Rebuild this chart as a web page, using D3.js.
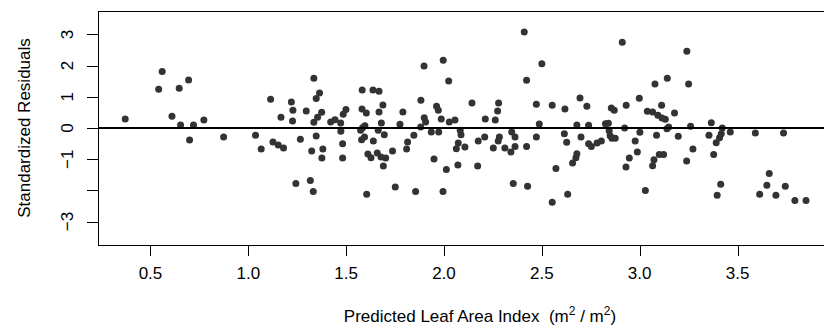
<!DOCTYPE html>
<html><head><meta charset="utf-8">
<script src="https://cdn.jsdelivr.net/npm/d3@7"></script>
<style>body{margin:0;background:#fff} svg{display:block} text{font-family:"Liberation Sans",Arial,Helvetica,sans-serif;fill:#000}</style>
</head><body>
<script>
const predicted = [
0.371,0.560,0.542,0.647,0.695,0.610,0.654,0.720,0.773,0.700,
0.874,1.037,1.066,1.114,1.167,1.220,1.228,1.226,1.296,1.335,1.364,1.347,1.375,1.354,1.335,1.421,1.443,1.266,1.347,1.126,1.153,1.180,1.324,1.381,1.376,1.243,1.317,1.332,
1.499,1.485,1.472,1.473,1.482,1.482,1.582,1.637,1.668,1.581,1.603,1.688,1.668,1.790,1.898,1.996,2.024,1.882,1.962,1.971,1.899,1.906,1.986,2.027,2.056,1.680,1.775,1.881,1.596,1.584,1.574,1.664,1.695,1.594,1.579,1.639,1.611,1.627,1.659,1.678,1.702,1.690,1.737,1.846,1.814,1.809,1.935,1.973,1.949,2.012,1.605,1.751,1.855,1.995,
2.083,2.087,2.073,2.063,2.071,
2.410,2.500,2.422,2.143,2.279,2.274,2.262,2.211,2.472,2.553,2.618,2.695,2.487,2.679,2.208,2.175,2.283,2.277,2.252,2.346,2.363,2.311,2.342,2.363,2.422,2.472,2.615,2.627,2.700,2.679,2.674,2.657,2.572,2.172,2.354,2.427,2.553,2.632,2.107,
2.911,3.241,3.141,3.078,3.250,2.998,2.931,3.112,2.855,2.870,2.730,3.178,3.039,3.066,3.093,3.114,3.131,2.739,2.825,2.840,2.844,2.849,2.858,2.875,2.923,3.001,3.139,3.148,3.260,3.086,3.197,2.739,2.753,2.782,2.804,2.977,2.988,2.947,2.930,3.100,3.122,3.073,3.066,3.272,3.240,3.029,
3.366,3.354,3.422,3.417,3.408,3.391,3.463,3.591,3.735,3.378,3.414,3.396,3.662,3.650,3.613,3.696,3.744,3.793,3.850
];
const residuals = [
0.289,1.809,1.242,1.274,1.542,0.375,0.096,0.096,0.257,-0.385,
-0.289,-0.236,-0.675,0.921,0.343,0.835,0.567,0.225,0.546,1.595,1.124,0.942,0.503,0.343,0.182,0.193,0.268,-0.364,-0.257,-0.450,-0.546,-0.642,-0.739,-0.675,-0.964,-1.777,-1.681,-2.034,
0.589,0.439,0.161,-0.107,-0.503,-0.964,1.221,1.221,1.178,0.610,0.482,0.739,0.514,0.514,1.991,2.173,1.510,0.889,0.696,0.567,0.332,0.193,0.289,0.193,0.257,0.161,0.118,0.032,0.075,0.011,-0.075,-0.075,-0.214,-0.289,-0.375,-0.418,-0.835,-0.953,-0.803,-0.931,-0.964,-1.221,-0.739,-0.236,-0.450,-0.675,-0.128,-0.128,-0.996,-1.328,-2.120,-1.895,-2.034,-2.034,
-0.074,-0.218,-0.482,-0.662,-1.182,
3.073,2.056,1.531,0.803,0.803,0.546,0.257,0.289,0.760,0.728,0.610,0.964,0.128,0.096,-0.289,-0.418,-0.289,-0.418,-0.642,-0.128,-0.289,-0.642,-0.771,-0.589,-0.589,-0.289,-0.182,-0.460,-0.289,-0.824,-0.953,-1.124,-1.296,-1.221,-1.777,-1.863,-2.377,-2.120,-0.610,
2.752,2.463,1.595,1.413,1.413,0.953,0.728,0.728,0.642,0.567,0.696,0.482,0.535,0.514,0.407,0.321,0.278,0.086,0.135,0.151,-0.090,-0.251,-0.331,-0.331,0.000,-0.139,-0.021,0.032,0.054,-0.236,-0.268,-0.503,-0.589,-0.482,-0.418,-0.418,-0.771,-0.964,-1.253,-0.846,-0.846,-1.017,-1.210,-0.675,-1.060,-2.002,
0.171,-0.236,0.000,-0.182,-0.310,-0.471,-0.128,-0.161,-0.161,-0.846,-1.799,-2.152,-1.456,-1.831,-2.120,-2.152,-1.863,-2.323,-2.323
];
const xTicks = [0.5, 1.0, 1.5, 2.0, 2.5, 3.0, 3.5];
const xTickLabels = ["0.5", "1.0", "1.5", "2.0", "2.5", "3.0", "3.5"];
const yTicks = [-3, -2, -1, 0, 1, 2, 3];
const yTickLabels = ["\u22123", "", "\u22121", "0", "1", "2", "3"];
const xTitle = "Predicted Leaf Area Index";
const yTitle = "Standardized Residuals";

const W = 824, H = 331;
const FS = 17;
const box = {left: 98, top: 11, bottom: 245, right: 862};
const svg = d3.select("body").append("svg").attr("width", W).attr("height", H);
svg.append("rect").attr("width", W).attr("height", H).attr("fill", "#fff");

const x = d3.scaleLinear().domain([0.232, 4.136]).range([box.left, box.right]);
const y = d3.scaleLinear().domain([-3.75, 3.75]).range([box.bottom, box.top]);

const data = predicted.map((p, i) => ({p, r: residuals[i]}));

// points
svg.append("g").selectAll("circle").data(data).join("circle")
  .attr("cx", d => x(d.p)).attr("cy", d => y(d.r)).attr("r", 3.5)
  .attr("fill", "#333333");

// zero line
svg.append("line").attr("x1", box.left).attr("x2", W).attr("y1", y(0)).attr("y2", y(0))
  .attr("stroke", "#000").attr("stroke-width", 2);

// box
svg.append("rect").attr("x", box.left).attr("y", box.top)
  .attr("width", box.right - box.left).attr("height", box.bottom - box.top)
  .attr("fill", "none").attr("stroke", "#000").attr("stroke-width", 1).attr("shape-rendering", "crispEdges");

// x axis
const xAxis = d3.axisBottom(x).tickValues(xTicks).tickSize(11).tickFormat(() => "");
const gx = svg.append("g").attr("transform", `translate(0,${box.bottom})`).call(xAxis);
gx.select(".domain").remove();
gx.selectAll("line").attr("stroke", "#000").attr("shape-rendering", "crispEdges");
svg.append("g").selectAll("text").data(xTicks).join("text")
  .attr("x", d => x(d)).attr("y", 279).attr("text-anchor", "middle")
  .attr("font-size", FS).text((d, i) => xTickLabels[i]);

// y axis
const yAxis = d3.axisLeft(y).tickValues(yTicks).tickSize(11).tickFormat(() => "");
const gy = svg.append("g").attr("transform", `translate(${box.left},0)`).call(yAxis);
gy.select(".domain").remove();
gy.selectAll("line").attr("stroke", "#000").attr("shape-rendering", "crispEdges");
svg.append("g").selectAll("text").data(yTicks).join("text")
  .attr("transform", d => `translate(73,${y(d)}) rotate(-90)`)
  .attr("text-anchor", "middle").attr("font-size", FS).text((d, i) => yTickLabels[i]);

// titles
svg.append("text").attr("transform", `translate(30,${(box.top + box.bottom) / 2}) rotate(-90)`)
  .attr("text-anchor", "middle").attr("font-size", FS).text(yTitle);

const xt = svg.append("text").attr("x", (box.left + box.right) / 2).attr("y", 322)
  .attr("text-anchor", "middle").attr("font-size", FS);
xt.append("tspan").text(xTitle + "\u00a0 (m");
xt.append("tspan").attr("font-size", 12).attr("dy", -7).text("2");
xt.append("tspan").attr("dy", 7).text(" / m");
xt.append("tspan").attr("font-size", 12).attr("dy", -7).text("2");
xt.append("tspan").attr("dy", 7).text(")");
</script>
</body></html>
